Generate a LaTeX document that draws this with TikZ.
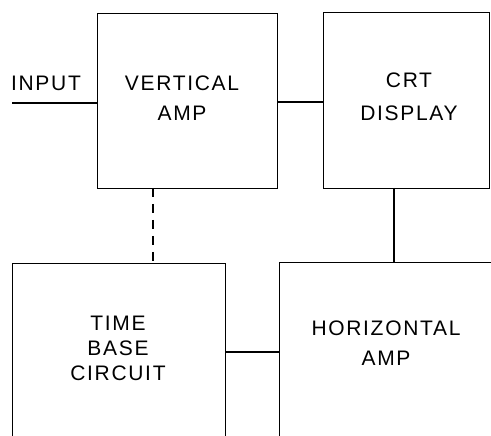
\documentclass[tikz,border=0pt]{standalone}
\usepackage{fontspec}
\setmainfont{Liberation Sans}[LetterSpace=8]
\usetikzlibrary{positioning}

\tikzset{
  blockbox/.style={draw, line width=1.3pt, rectangle, anchor=north west, inner sep=0pt},
  blocktext/.style={align=center, inner sep=0pt, font=\fontsize{21}{30}\selectfont},
  wire/.style={line width=1.3pt},
}

\begin{document}
\begin{tikzpicture}[x=1pt,y=-1pt]
\useasboundingbox (0,0) rectangle (491,436);
\clip (0,0) rectangle (491,436);
\node[blockbox, minimum width=180pt, minimum height=175pt] (vamp) at (97,13) {};
\node[blockbox, minimum width=166pt, minimum height=176pt] (crt) at (323,12) {};
\node[blockbox, minimum width=213pt, minimum height=200pt] (tbase) at (12,263) {};
\node[blockbox, minimum width=240pt, minimum height=200pt] (hamp) at (279,262) {};
\node[blocktext] (vamptxt) at (182,98) {VERTICAL\\AMP};
\node[blocktext, font=\fontsize{21}{33}\selectfont] (crttxt) at (409,97) {CRT\\DISPLAY};
\node[blocktext, font=\fontsize{21}{25}\selectfont] (tbtxt) at (118,348) {TIME\\BASE\\CIRCUIT};
\node[blocktext] (hamptxt) at (386,343) {HORIZONTAL\\AMP};
\node[blocktext] (intxt) at (46,83) {INPUT};
\coordinate (in) at (12,103);
\draw[wire] (in) -- (in -| vamp.west);
\coordinate (vout) at (277,102);
\draw[wire] (vout) -- (vout -| crt.west);
\coordinate (sync) at (153,188);
\draw[wire, dash pattern=on 9pt off 7pt] (sync) -- (sync |- tbase.north);
\coordinate (crtout) at (394,188);
\draw[wire] (crtout) -- (crtout |- hamp.north);
\coordinate (tbout) at (225,352);
\draw[wire] (tbout) -- (tbout -| hamp.west);
\end{tikzpicture}
\end{document}
